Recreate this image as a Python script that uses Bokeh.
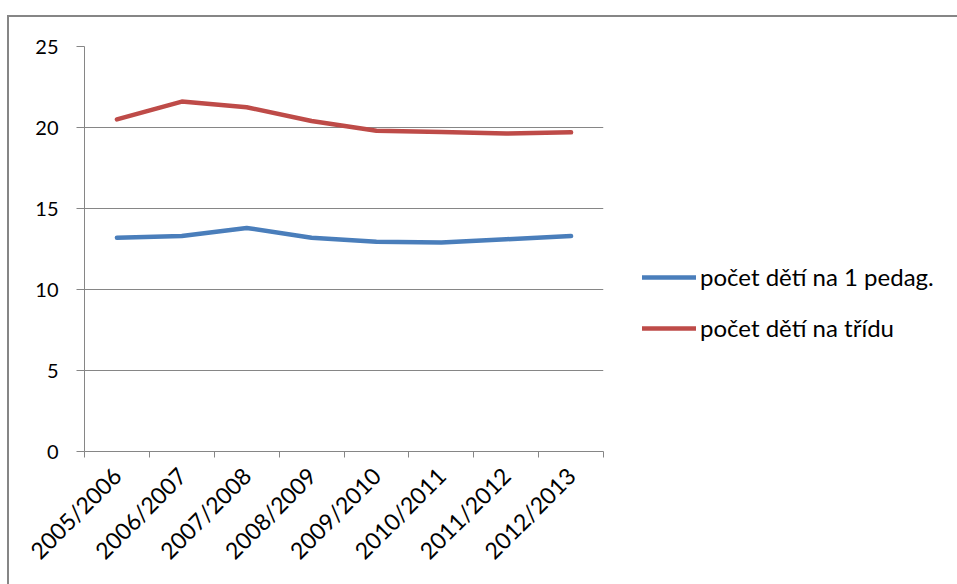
from math import pi
from bokeh.plotting import figure
from bokeh.models import Range1d, FixedTicker, Legend, LegendItem
from bokeh.embed import file_html
from bokeh.resources import INLINE

years = ["2005/2006", "2006/2007", "2007/2008", "2008/2009",
         "2009/2010", "2010/2011", "2011/2012", "2012/2013"]
per_teacher = [13.2, 13.3, 13.8, 13.2, 12.95, 12.9, 13.1, 13.3]
per_class = [20.5, 21.6, 21.25, 20.4, 19.8, 19.72, 19.63, 19.7]
label_teacher = "počet dětí na 1 pedag."
label_class = "počet dětí na třídu"
y_ticks = [0, 5, 10, 15, 20, 25]

FONT = "Lato"
GRAY = "#868686"
BLUE = "#4A7EBB"
RED = "#BE4B48"

xs = [i + 0.5 for i in range(len(years))]

p = figure(frame_width=519, frame_height=405, output_backend="svg", toolbar_location=None,
           x_range=Range1d(0, len(years)), y_range=Range1d(0, 25),
           min_border_left=75, min_border_right=10, min_border_top=29,
           min_border_bottom=133)
p.outline_line_color = None
p.background_fill_color = "white"
p.border_fill_color = "white"

r1 = p.line(xs, per_teacher, line_color=BLUE, line_width=4.5, line_join="round", line_cap="round")
r2 = p.line(xs, per_class, line_color=RED, line_width=4.5, line_join="round", line_cap="round")

# axes
xa = p.xaxis[0]
xa.ticker = FixedTicker(ticks=xs, minor_ticks=list(range(len(years) + 1)))
xa.major_label_overrides = {x: y for x, y in zip(xs, years)}
xa.major_label_orientation = pi / 4
xa.major_tick_line_color = None
xa.minor_tick_line_color = GRAY
xa.minor_tick_out = 6
xa.minor_tick_in = 0
xa.axis_line_color = GRAY
xa.major_label_text_font = FONT
xa.major_label_text_font_size = "23px"
xa.major_label_text_color = "black"
xa.major_label_standoff = 14

ya = p.yaxis[0]
ya.ticker = FixedTicker(ticks=y_ticks)
ya.minor_tick_line_color = None
ya.major_tick_line_color = GRAY
ya.major_tick_out = 8
ya.major_tick_in = 0
ya.axis_line_color = GRAY
ya.major_label_text_font = FONT
ya.major_label_text_font_size = "20px"
ya.major_label_text_color = "black"
ya.major_label_standoff = 18

p.xgrid.grid_line_color = None
p.ygrid.grid_line_color = GRAY
p.ygrid.ticker = FixedTicker(ticks=y_ticks)

legend = Legend(items=[LegendItem(label=label_teacher, renderers=[r1]),
                       LegendItem(label=label_class, renderers=[r2])],
                location=(39, 109), padding=0, margin=0, spacing=22,
                glyph_width=54, glyph_height=28, label_standoff=4,
                label_text_font=FONT, label_text_font_size="24px",
                label_text_color="black",
                border_line_color=None, background_fill_alpha=0)
p.add_layout(legend, "right")

p.styles = {"border-left": "2px solid #868686", "border-top": "2px solid #868686",
            "margin-top": "15px", "margin-left": "7px"}

open("out.html", "w").write(file_html(p, INLINE))
